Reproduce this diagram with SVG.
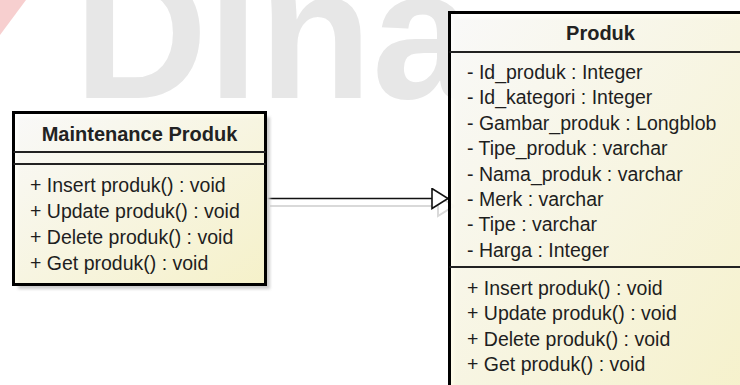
<svg xmlns="http://www.w3.org/2000/svg" width="740" height="385" viewBox="0 0 740 385">
  <style>
    .box { stroke: #000; stroke-width: 3; fill: url(#cream); }
    .shadow { fill: #cccccc; filter: url(#blur); }
    .sep { stroke: #222; stroke-width: 2; }
    .title { font-family: "Liberation Sans", Arial, sans-serif; font-size: 20px; font-weight: bold; fill: #222; text-anchor: middle; }
    .item { font-family: "Liberation Sans", Arial, sans-serif; font-size: 19.5px; fill: #1e1e1e; }
    .wm { font-family: "Liberation Sans", Arial, sans-serif; font-size: 185px; font-weight: bold; fill: #e7e7e7; }
    .edge { stroke: #111; stroke-width: 1.6; fill: none; }
    .edge-shadow { stroke: #d9d9d9; stroke-width: 2; fill: none; }
  </style>
  <defs>
    <linearGradient id="cream" x1="0" y1="0" x2="1" y2="1">
      <stop offset="0" stop-color="#ffffff" stop-opacity="0.88"/>
      <stop offset="1" stop-color="#fbf6c9" stop-opacity="0.88"/>
    </linearGradient>
    <filter id="blur" x="-10%" y="-10%" width="120%" height="120%">
      <feGaussianBlur stdDeviation="1.5"/>
    </filter>
    <marker id="gen" markerUnits="userSpaceOnUse" markerWidth="20" markerHeight="24" refX="17" refY="11" orient="auto">
      <path d="M1,1 L17,11 L1,21 Z" fill="#fff" stroke="#111" stroke-width="1.6"/>
    </marker>
    <marker id="gen-sh" markerUnits="userSpaceOnUse" markerWidth="20" markerHeight="24" refX="17" refY="11" orient="auto">
      <path d="M1,1 L17,11 L1,21 Z" fill="#fff" stroke="#d9d9d9" stroke-width="2"/>
    </marker>
  </defs>

  <rect x="0" y="0" width="740" height="385" fill="#ffffff"/>

  <!-- faint watermark -->
  <g id="watermark">
    <polygon points="0,0 26,0 0,35" fill="#f7cfcf"/>
    <text class="wm" x="74" y="98">Dina</text>
  </g>

  <!-- connectors -->
  <g id="connectors">
    <line class="edge-shadow" x1="270" y1="206" x2="454" y2="206" marker-end="url(#gen-sh)"/>
    <line class="edge" x1="267" y1="198.5" x2="448" y2="198.5" marker-end="url(#gen)"/>
  </g>

  <!-- Maintenance Produk -->
  <g id="node-maintenance">
    <rect class="shadow" x="18" y="117" width="252" height="172"/>
    <rect class="box" x="13.5" y="112.5" width="252" height="172"/>
    <line class="sep" x1="13.5" y1="152" x2="265.5" y2="152"/>
    <line class="sep" x1="13.5" y1="164" x2="265.5" y2="164"/>
    <text class="title" x="139.5" y="141">Maintenance Produk</text>
    <text class="item" x="30" y="192">+ Insert produk() : void</text>
    <text class="item" x="30" y="218">+ Update produk() : void</text>
    <text class="item" x="30" y="244">+ Delete produk() : void</text>
    <text class="item" x="30" y="270">+ Get produk() : void</text>
  </g>

  <!-- Produk -->
  <g id="node-produk">
    <rect class="shadow" x="454" y="18" width="310" height="400"/>
    <rect class="box" x="449.5" y="12.5" width="310" height="400"/>
    <line class="sep" x1="449.5" y1="52" x2="759.5" y2="52"/>
    <line class="sep" x1="449.5" y1="267" x2="759.5" y2="267"/>
    <text class="title" x="600.5" y="40">Produk</text>
    <text class="item" x="467" y="79">- Id_produk : Integer</text>
    <text class="item" x="467" y="104.4">- Id_kategori : Integer</text>
    <text class="item" x="467" y="129.8">- Gambar_produk : Longblob</text>
    <text class="item" x="467" y="155.2">- Tipe_produk : varchar</text>
    <text class="item" x="467" y="180.6">- Nama_produk : varchar</text>
    <text class="item" x="467" y="206">- Merk : varchar</text>
    <text class="item" x="467" y="231.4">- Tipe : varchar</text>
    <text class="item" x="467" y="256.8">- Harga : Integer</text>
    <text class="item" x="467" y="295">+ Insert produk() : void</text>
    <text class="item" x="467" y="320.4">+ Update produk() : void</text>
    <text class="item" x="467" y="345.8">+ Delete produk() : void</text>
    <text class="item" x="467" y="371.2">+ Get produk() : void</text>
  </g>
</svg>
